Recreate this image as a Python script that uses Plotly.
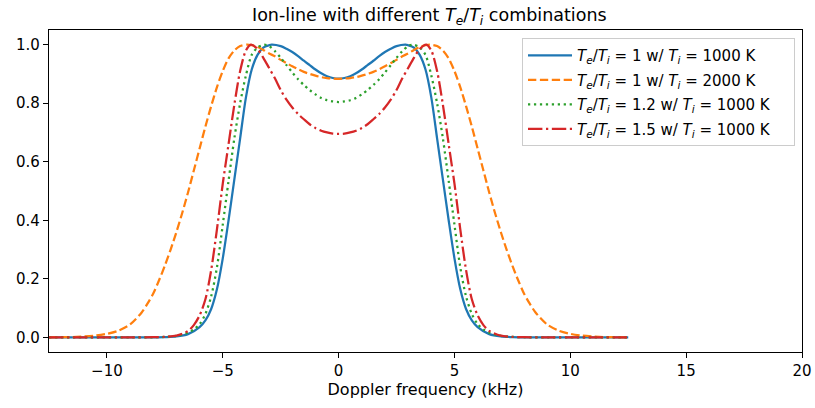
import plotly.graph_objects as go

# Doppler frequency (kHz) and normalised spectra
x_te1_ti1000 = [-12.5, -9, -8, -7.5, -7, -6.5, -6, -5.75, -5.5, -5.25, -5, -4.75, -4.5, -4.25, -4, -3.75, -3.5, -3.25, -3, -2.89, -2.5, -2.25, -2, -1.75, -1.5, -1.25, -1, -0.75, -0.5, -0.25,
                0, 0.25, 0.5, 0.75, 1, 1.25, 1.5, 1.75, 2, 2.25, 2.5, 2.89, 3, 3.25, 3.5, 3.75, 4, 4.25, 4.5, 4.75, 5, 5.25, 5.5, 5.75, 6, 6.5, 7, 7.5, 8, 9, 12.5]
y_te1_ti1000 = [0, 0, 0.0003, 0.001, 0.003, 0.011, 0.035, 0.058, 0.097, 0.165, 0.27, 0.40, 0.54, 0.68, 0.82, 0.915, 0.965, 0.99, 0.998, 1.0, 0.995, 0.986, 0.975, 0.961, 0.945, 0.93, 0.915, 0.902, 0.892, 0.886,
                0.884, 0.886, 0.892, 0.902, 0.915, 0.93, 0.945, 0.961, 0.975, 0.986, 0.995, 1.0, 0.998, 0.99, 0.965, 0.915, 0.82, 0.68, 0.54, 0.40, 0.27, 0.165, 0.097, 0.058, 0.035, 0.011, 0.003, 0.001, 0.0003, 0, 0]

x_te1_ti2000 = [-12.5, -12, -11.5, -11, -10.5, -10, -9.5, -9, -8.5, -8.25, -8, -7.75, -7.5, -7.25, -7, -6.75, -6.5, -6.25, -6, -5.75, -5.5, -5.25, -5, -4.75, -4.5, -4.25, -3.96, -3.75, -3.5, -3.25, -3, -2.75, -2.5, -2.25, -2, -1.75, -1.5, -1.25, -1, -0.75, -0.5, -0.25,
                0, 0.25, 0.5, 0.75, 1, 1.25, 1.5, 1.75, 2, 2.25, 2.5, 2.75, 3, 3.25, 3.5, 3.75, 3.96, 4.25, 4.5, 4.75, 5, 5.25, 5.5, 5.75, 6, 6.25, 6.5, 6.75, 7, 7.25, 7.5, 7.75, 8, 8.25, 8.5, 9, 9.5, 10, 10.5, 11, 11.5, 12, 12.5]
y_te1_ti2000 = [0.0002, 0.0005, 0.001, 0.003, 0.006, 0.012, 0.023, 0.044, 0.085, 0.115, 0.15, 0.195, 0.245, 0.30, 0.36, 0.425, 0.495, 0.57, 0.645, 0.72, 0.79, 0.855, 0.91, 0.953, 0.98, 0.995, 1.0, 0.998, 0.992, 0.982, 0.97, 0.96, 0.948, 0.937, 0.926, 0.916, 0.907, 0.9, 0.894, 0.889, 0.886, 0.884,
                0.883, 0.884, 0.886, 0.889, 0.894, 0.9, 0.907, 0.916, 0.926, 0.937, 0.948, 0.96, 0.97, 0.982, 0.992, 0.998, 1.0, 0.995, 0.98, 0.953, 0.91, 0.855, 0.79, 0.72, 0.645, 0.57, 0.495, 0.425, 0.36, 0.30, 0.245, 0.195, 0.15, 0.115, 0.085, 0.044, 0.023, 0.012, 0.006, 0.003, 0.001, 0.0005, 0.0002]

x_te12_ti1000 = [-12.5, -9, -8, -7.5, -7, -6.5, -6.25, -6, -5.75, -5.5, -5.25, -5, -4.75, -4.5, -4.25, -4, -3.75, -3.5, -3.22, -3, -2.75, -2.5, -2.25, -2, -1.75, -1.5, -1.25, -1, -0.75, -0.5, -0.25,
                 0, 0.25, 0.5, 0.75, 1, 1.25, 1.5, 1.75, 2, 2.25, 2.5, 2.75, 3, 3.22, 3.5, 3.75, 4, 4.25, 4.5, 4.75, 5, 5.25, 5.5, 5.75, 6, 6.25, 6.5, 7, 7.5, 8, 9, 12.5]
y_te12_ti1000 = [0, 0, 0.0004, 0.0015, 0.005, 0.016, 0.027, 0.045, 0.08, 0.14, 0.24, 0.385, 0.535, 0.68, 0.80, 0.895, 0.965, 0.99, 1.0, 0.995, 0.978, 0.955, 0.93, 0.905, 0.882, 0.862, 0.845, 0.83, 0.818, 0.81, 0.806,
                 0.804, 0.806, 0.81, 0.818, 0.83, 0.845, 0.862, 0.882, 0.905, 0.93, 0.955, 0.978, 0.995, 1.0, 0.99, 0.965, 0.895, 0.80, 0.68, 0.535, 0.385, 0.24, 0.14, 0.08, 0.045, 0.027, 0.016, 0.005, 0.0015, 0.0004, 0, 0]

x_te15_ti1000 = [-12.5, -9, -8, -7.5, -7, -6.5, -6.25, -6, -5.75, -5.5, -5.25, -5, -4.75, -4.5, -4.25, -4, -3.78, -3.5, -3.25, -3, -2.75, -2.5, -2.25, -2, -1.75, -1.5, -1.25, -1, -0.75, -0.5, -0.25,
                 0, 0.25, 0.5, 0.75, 1, 1.25, 1.5, 1.75, 2, 2.25, 2.5, 2.75, 3, 3.25, 3.5, 3.78, 4, 4.25, 4.5, 4.75, 5, 5.25, 5.5, 5.75, 6, 6.25, 6.5, 7, 7.5, 8, 9, 12.5]
y_te15_ti1000 = [0, 0, 0.0005, 0.0018, 0.006, 0.022, 0.042, 0.075, 0.13, 0.23, 0.37, 0.525, 0.66, 0.795, 0.91, 0.98, 1.0, 0.985, 0.955, 0.92, 0.885, 0.845, 0.812, 0.785, 0.763, 0.745, 0.728, 0.715, 0.706, 0.7, 0.696,
                 0.695, 0.696, 0.7, 0.706, 0.715, 0.728, 0.745, 0.763, 0.785, 0.812, 0.845, 0.885, 0.92, 0.955, 0.985, 1.0, 0.98, 0.91, 0.795, 0.66, 0.525, 0.37, 0.23, 0.13, 0.075, 0.042, 0.022, 0.006, 0.0018, 0.0005, 0, 0]

TI = "<i>T</i><sub><i>i</i></sub>"
TE = "<i>T</i><sub><i>e</i></sub>"
PAD = "&nbsp;" * 4
labels = [
    f"{TE}/{TI} = 1 w/ {TI} = 1000 K{PAD}",
    f"{TE}/{TI} = 1 w/ {TI} = 2000 K{PAD}",
    f"{TE}/{TI} = 1.2 w/ {TI} = 1000 K{PAD}",
    f"{TE}/{TI} = 1.5 w/ {TI} = 1000 K{PAD}",
]
colors = ["#1f77b4", "#ff7f0e", "#2ca02c", "#d62728"]
dashes = ["solid", "8.3px,3.6px", "2.25px,3.7px", "14.4px,3.6px,2.25px,3.6px"]
xs = [x_te1_ti1000, x_te1_ti2000, x_te12_ti1000, x_te15_ti1000]
ys = [y_te1_ti1000, y_te1_ti2000, y_te12_ti1000, y_te15_ti1000]

fig = go.Figure()
for i, (x, y, lab, c, d) in enumerate(zip(xs, ys, labels, colors, dashes)):
    fig.add_trace(go.Scatter(x=x, y=y, mode="lines", name=lab, legendgroup=f"g{i}",
                             line=dict(color=c, width=2.25, dash=d, shape="spline", smoothing=0.8)))

font = "DejaVu Sans, sans-serif"
axis_common = dict(showline=True, linecolor="black", linewidth=1.2, mirror=True,
                   ticks="outside", ticklen=5, tickwidth=1.2, tickcolor="black",
                   showgrid=False, zeroline=False, automargin=False,
                   tickfont=dict(family=font, size=15, color="black"))
fig.update_layout(
    width=815, height=408,
    margin=dict(l=49, r=13, t=30, b=56, autoexpand=False),
    paper_bgcolor="white", plot_bgcolor="white",
    title=dict(text=f"Ion-line with different {TE}/{TI} combinations",
               xref="container", x=252 / 815, xanchor="left", y=1 - 15 / 408, yanchor="middle",
               automargin=False,
               font=dict(family=font, size=17.5, color="black")),
    xaxis=dict(range=[-12.5, 20], tickvals=[-10, -5, 0, 5, 10, 15, 20],
               title=dict(text="Doppler frequency (kHz)", font=dict(family=font, size=16, color="black"), standoff=4),
               **axis_common),
    yaxis=dict(range=[-0.05, 1.05], tickvals=[0, 0.2, 0.4, 0.6, 0.8, 1.0], tickformat=".1f",
               **axis_common),
    legend=dict(x=0.9907, y=0.975, xanchor="right", yanchor="top", itemwidth=44,
                bgcolor="rgba(255,255,255,0.8)", bordercolor="#cccccc", borderwidth=1,
                font=dict(family=font, size=15, color="black"), tracegroupgap=2),
    showlegend=True,
)
fig.write_html("out.html")
